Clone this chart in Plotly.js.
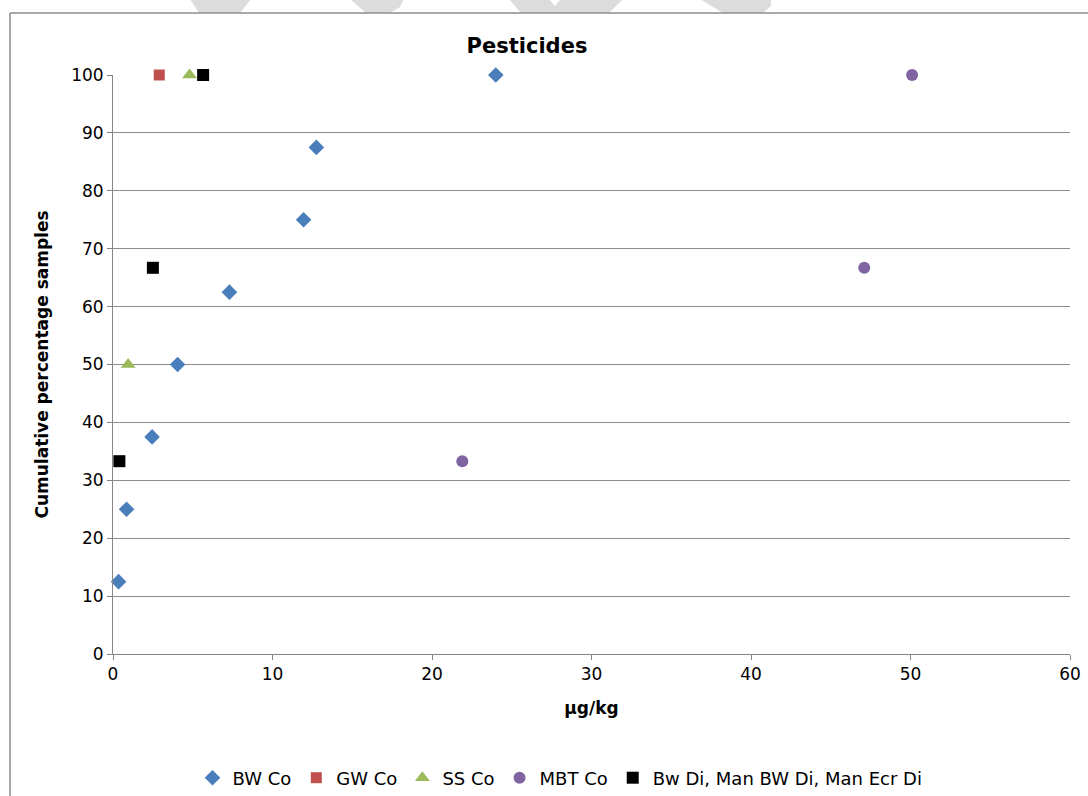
<!DOCTYPE html>
<html>
<head>
<meta charset="utf-8">
<script src="https://cdn.plot.ly/plotly-3.0.1.min.js"></script>
<style>
  html, body { margin: 0; padding: 0; background: #fff; overflow: hidden; }
  #chart { width: 1088px; height: 796px; }
</style>
</head>
<body>
<div id="chart"></div>
<script>
// Concentrations (µg/kg) and cumulative percentage of samples per group
const bwCoX = [0.35, 0.85, 2.45, 4.05, 7.3, 11.95, 12.75, 24.0];
const bwCoY = [12.5, 25, 37.5, 50, 62.5, 75, 87.5, 100];

const gwCoX = [2.9];
const gwCoY = [100];

const ssCoX = [0.95, 4.8];
const ssCoY = [50, 100];

const mbtCoX = [21.9, 47.1, 50.1];
const mbtCoY = [33.3, 66.7, 100];

const diX = [0.4, 2.5, 5.65];
const diY = [33.3, 66.7, 100];

const seriesNames = ['BW Co', 'GW Co', 'SS Co', 'MBT Co', 'Bw Di, Man BW Di, Man Ecr Di'];

const FONT = 'DejaVu Sans, Verdana, sans-serif';

// plot area in pixels, used to place the frame and background strokes
const W = 1088, H = 796;
const M = { l: 113, r: 18, t: 75, b: 142 };
const PW = W - M.l - M.r, PH = H - M.t - M.b;
const px = x => (x - M.l) / PW;
const py = y => (H - M.b - y) / PH;

function poly(points, color) {
  const d = points.map((p, i) => (i ? 'L' : 'M') + px(p[0]).toFixed(5) + ',' + py(p[1]).toFixed(5)).join(' ') + ' Z';
  return { type: 'path', xref: 'paper', yref: 'paper', path: d,
           fillcolor: color, line: { width: 0 }, layer: 'below' };
}

const base = { mode: 'markers', type: 'scatter', cliponaxis: false };
const traces = [
  Object.assign({ x: bwCoX, y: bwCoY, name: seriesNames[0],
    marker: { symbol: 'diamond', size: 12, color: '#4A7EBB' } }, base),
  Object.assign({ x: gwCoX, y: gwCoY, name: seriesNames[1],
    marker: { symbol: 'square', size: 11, color: '#C0504D' } }, base),
  Object.assign({ x: ssCoX, y: ssCoY, name: seriesNames[2],
    marker: { symbol: 'triangle-up', size: 13, color: '#9BBB59' } }, base),
  Object.assign({ x: mbtCoX, y: mbtCoY, name: seriesNames[3],
    marker: { symbol: 'circle', size: 12, color: '#8064A2' } }, base),
  Object.assign({ x: diX, y: diY, name: seriesNames[4],
    marker: { symbol: 'square', size: 12, color: '#000000' } }, base)
];

const grey = '#DCDCDC';
const shapes = [
  // faint strokes along the top edge
  poly([[190, -1], [251, -1], [240, 13], [199, 13]], grey),
  poly([[350, -1], [404, -1], [400, 7], [390, 13], [366, 13]], grey),
  poly([[509, -1], [549, -1], [555, 6], [561, -1], [623, -1], [609, 13], [521, 13]], grey),
  poly([[700, -1], [771, -1], [771, 6], [763, 13], [723, 13]], grey),
  // outer frame
  { type: 'line', xref: 'paper', yref: 'paper', x0: px(10), x1: px(1090), y0: py(13), y1: py(13),
    line: { color: '#8C8C8C', width: 1.5 } },
  { type: 'line', xref: 'paper', yref: 'paper', x0: px(10), x1: px(10), y0: py(13), y1: py(800),
    line: { color: '#8C8C8C', width: 1.5 } }
];

const layout = {
  width: W, height: H,
  margin: M,
  paper_bgcolor: '#FFFFFF',
  plot_bgcolor: '#FFFFFF',
  font: { family: FONT, size: 17, color: '#000' },
  title: { text: '<b>Pesticides</b>', xref: 'container', yref: 'container',
           x: 527 / W, xanchor: 'center', y: 1 - 46 / H, yanchor: 'middle',
           font: { family: FONT, size: 21, color: '#000' } },
  showlegend: true,
  legend: { orientation: 'h', xref: 'container', yref: 'container',
            x: 560 / W, xanchor: 'center', y: 1 - 778 / H, yanchor: 'middle',
            font: { family: FONT, size: 18, color: '#000' }, itemwidth: 30, tracegroupgap: 0,
            bgcolor: 'rgba(0,0,0,0)' },
  xaxis: {
    range: [0, 60], dtick: 10, tick0: 0,
    showgrid: false, zeroline: false,
    showline: true, linecolor: '#868686', linewidth: 1,
    ticks: 'outside', ticklen: 5, tickcolor: '#868686',
    tickfont: { family: FONT, size: 17, color: '#000' },
    title: { text: '<b>µg/kg</b>', font: { family: FONT, size: 17, color: '#000' }, standoff: 18 },
    fixedrange: true
  },
  yaxis: {
    range: [0, 100], dtick: 10, tick0: 0,
    showgrid: true, gridcolor: '#8C8C8C', gridwidth: 1,
    zeroline: false,
    showline: true, linecolor: '#868686', linewidth: 1,
    ticks: 'outside', ticklen: 5, tickcolor: '#868686',
    tickfont: { family: FONT, size: 17, color: '#000' },
    title: { text: '<b>Cumulative percentage samples</b>', font: { family: FONT, size: 17, color: '#000' }, standoff: 18 },
    fixedrange: true
  },
  shapes: shapes
};

Plotly.newPlot('chart', traces, layout, { displayModeBar: false, staticPlot: true });
</script>
</body>
</html>
